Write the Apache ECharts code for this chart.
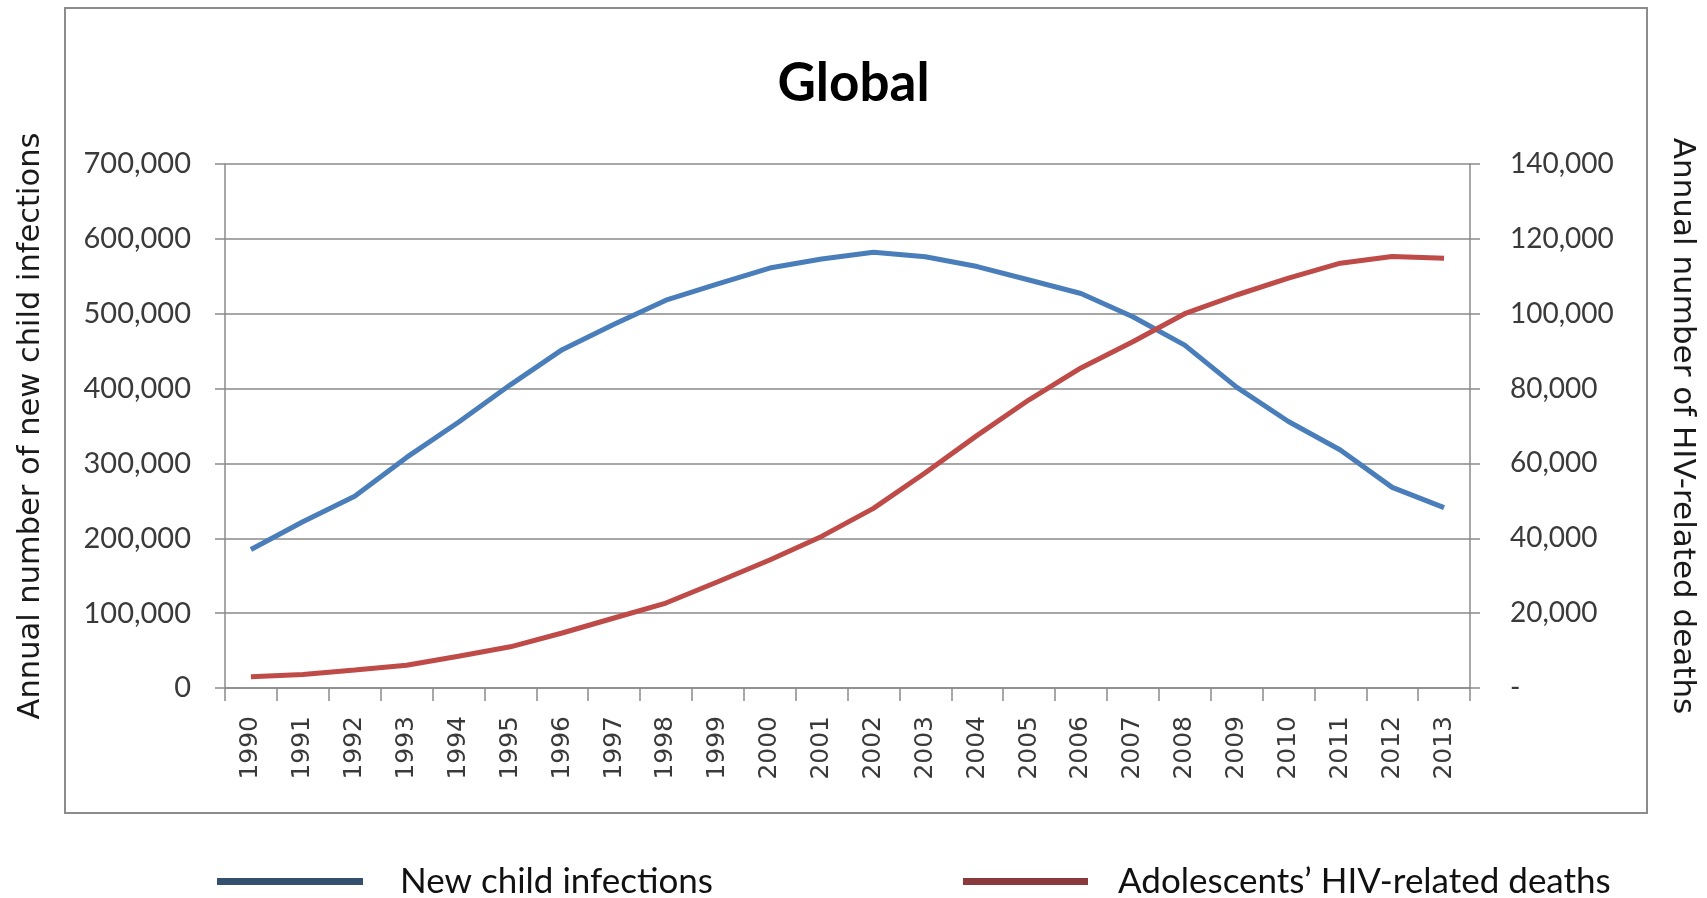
<!DOCTYPE html>
<html>
<head>
<meta charset="utf-8">
<script src="https://cdn.jsdelivr.net/npm/echarts@6/dist/echarts.min.js"></script>
<style>
  html, body { margin: 0; padding: 0; background: #ffffff; }
  #chart { width: 1707px; height: 898px; }
</style>
</head>
<body>
<div id="chart"></div>
<script>
// Years on the category axis
const years = ['1990', '1991', '1992', '1993', '1994', '1995', '1996', '1997',
  '1998', '1999', '2000', '2001', '2002', '2003', '2004', '2005', '2006', '2007',
  '2008', '2009', '2010', '2011', '2012', '2013'];

// Annual number of new child infections (left axis)
const newChildInfections = [185000, 222000, 256000, 308000, 355000, 405000, 452000, 486000,
  518000, 540000, 561000, 573000, 582000, 576000, 563000, 545000, 527000, 496000,
  458000, 402000, 356000, 318000, 268000, 241000];

// Annual number of adolescents' HIV-related deaths (right axis)
const adolescentDeaths = [3000, 3600, 4800, 6100, 8500, 11000, 14700, 18700,
  22700, 28400, 34200, 40500, 48000, 57500, 67500, 77000, 85500, 92500,
  100000, 105000, 109500, 113500, 115300, 114800];

// Axis ranges and series names
const leftAxis = { min: 0, max: 700000, interval: 100000 };
const rightAxis = { min: 0, max: 140000, interval: 20000 };
const seriesNames = ['New child infections', 'Adolescents\u2019 HIV-related deaths'];
const axisTitles = ['Annual number of new child infections', 'Annual number of HIV-related deaths'];

const textFont = "Lato, 'Open Sans', sans-serif";
const wide = "'DejaVu Sans', Verdana, sans-serif";
const gridColor = '#8a8a8a';
const labelColor = '#3a3a3a';

const fmt = v => v.toLocaleString('en-US');

const chart = echarts.init(document.getElementById('chart'), null, { renderer: 'canvas' });

chart.setOption({
  backgroundColor: '#ffffff',
  animation: false,
  title: {
    text: 'Global',
    left: 'center',
    top: 52,
    textStyle: { fontFamily: textFont, fontWeight: 'bold', fontSize: 53, color: '#000000' }
  },
  graphic: [{
    type: 'rect',
    z: -1,
    shape: { x: 65, y: 8, width: 1582, height: 805 },
    style: { fill: 'none', stroke: '#8c8c8c', lineWidth: 2 }
  }],
  legend: [{
    data: [{ name: seriesNames[0], itemStyle: { color: '#34506f' } }],
    left: 212,
    top: 859,
    icon: 'rect',
    itemWidth: 146,
    itemHeight: 7,
    textStyle: { fontFamily: textFont, fontSize: 35, color: '#111111', padding: [0, 0, 0, 32] }
  }, {
    data: [{ name: seriesNames[1], itemStyle: { color: '#8a3a3d' } }],
    left: 958,
    top: 859,
    icon: 'rect',
    itemWidth: 125,
    itemHeight: 7,
    textStyle: { fontFamily: textFont, fontSize: 35, color: '#111111', padding: [0, 0, 0, 25] }
  }],
  grid: {
    left: 225,
    right: 237,
    top: 164,
    bottom: 210,
    outerBoundsMode: 'none'
  },
  xAxis: {
    type: 'category',
    data: years,
    boundaryGap: true,
    axisLine: { lineStyle: { color: gridColor, width: 1.5 } },
    axisTick: { show: true, length: 13, lineStyle: { color: gridColor, width: 1.5 } },
    axisLabel: {
      rotate: 90,
      margin: 28,
      interval: 0,
      fontFamily: wide,
      fontSize: 25,
      color: labelColor
    },
    splitLine: { show: false }
  },
  yAxis: [{
    type: 'value',
    position: 'left',
    min: leftAxis.min,
    max: leftAxis.max,
    interval: leftAxis.interval,
    name: axisTitles[0],
    nameLocation: 'middle',
    nameRotate: 90,
    nameGap: 178,
    nameTextStyle: { fontFamily: wide, fontSize: 30.5, color: '#1a1a1a' },
    axisLine: { show: true, lineStyle: { color: gridColor, width: 1.5 } },
    axisTick: { show: true, length: 10, lineStyle: { color: gridColor, width: 1.5 } },
    axisLabel: {
      margin: 34,
      fontFamily: textFont,
      fontSize: 29,
      color: labelColor,
      formatter: v => fmt(v)
    },
    splitLine: { show: true, lineStyle: { color: gridColor, width: 1.5 } }
  }, {
    type: 'value',
    position: 'right',
    min: rightAxis.min,
    max: rightAxis.max,
    interval: rightAxis.interval,
    name: axisTitles[1],
    nameLocation: 'middle',
    nameRotate: -90,
    nameGap: 197,
    nameTextStyle: { fontFamily: wide, fontSize: 31, color: '#1a1a1a' },
    axisLine: { show: true, lineStyle: { color: gridColor, width: 1.5 } },
    axisTick: { show: true, length: 10, lineStyle: { color: gridColor, width: 1.5 } },
    axisLabel: {
      margin: 40,
      fontFamily: textFont,
      fontSize: 28,
      color: labelColor,
      formatter: v => (v === 0 ? '-' : fmt(v))
    },
    splitLine: { show: false }
  }],
  series: [{
    name: seriesNames[0],
    type: 'line',
    yAxisIndex: 0,
    data: newChildInfections,
    showSymbol: false,
    symbol: 'none',
    lineStyle: { color: '#4a7ebb', width: 5 },
    itemStyle: { color: '#4a7ebb' }
  }, {
    name: seriesNames[1],
    type: 'line',
    yAxisIndex: 1,
    data: adolescentDeaths,
    showSymbol: false,
    symbol: 'none',
    lineStyle: { color: '#be4b48', width: 5 },
    itemStyle: { color: '#be4b48' }
  }]
});
</script>
</body>
</html>
